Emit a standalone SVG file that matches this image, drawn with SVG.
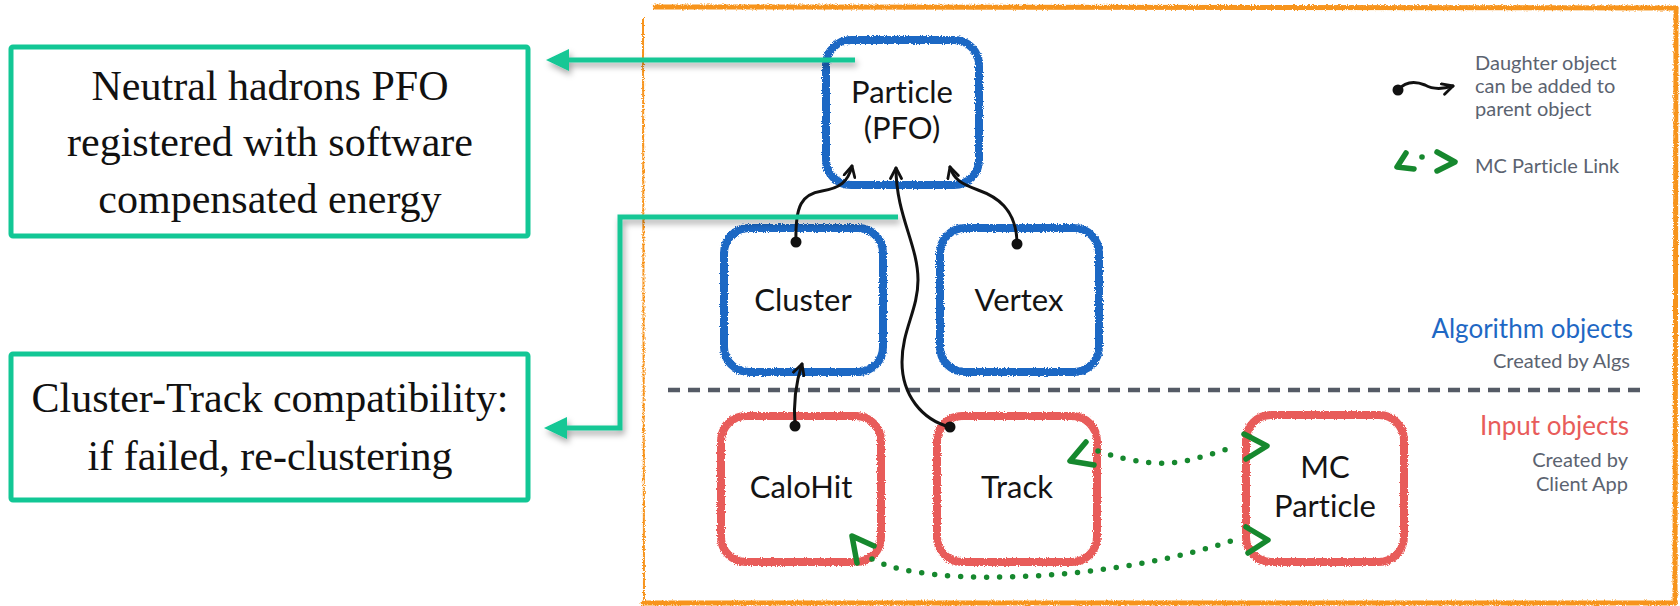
<svg xmlns="http://www.w3.org/2000/svg" width="1680" height="606" viewBox="0 0 1680 606">
  <defs>
    <style>
      text { font-variant-ligatures: none; }
      .note rect { fill: #ffffff; stroke: #12C795; stroke-width: 5; }
      .note text { font-family: "Liberation Serif", "Times New Roman", serif; font-size: 42px; fill: #111111; text-anchor: middle; }
      .node rect.box { fill: #ffffff; stroke-width: 8; }
      .node rect.edge { fill: none; stroke-width: 2.5; opacity: 0.55; }
      .alg rect { stroke: #1F68C4; }
      .inp rect { stroke: #E85C5A; }
      .node text { font-family: Lato, "Open Sans", sans-serif; font-size: 31px; fill: #141414; text-anchor: middle; }
      .legend { font-family: Lato, "Open Sans", sans-serif; font-size: 20px; fill: #5B6370; }
      .big { font-family: Lato, "Open Sans", sans-serif; font-size: 26px; text-anchor: end; }
      .small { font-family: Lato, "Open Sans", sans-serif; font-size: 20px; fill: #5B6370; text-anchor: end; }
      .link { fill: none; stroke: #111111; stroke-width: 3; stroke-linecap: round; }
      .mc { fill: none; stroke: #16882E; stroke-width: 5.5; stroke-linecap: round; stroke-dasharray: 0 13; }
      .mchead { fill: none; stroke: #16882E; stroke-width: 5.5; stroke-linecap: round; stroke-linejoin: round; }
      .callout { fill: none; stroke: #12C795; stroke-width: 5; }
      .frame { fill: none; stroke: #F7941D; stroke-linecap: round; }
    </style>
    <filter id="rough" x="-5%" y="-5%" width="110%" height="110%">
      <feTurbulence type="fractalNoise" baseFrequency="0.9" numOctaves="2" seed="3" result="n"/>
      <feDisplacementMap in="SourceGraphic" in2="n" scale="3.5" xChannelSelector="R" yChannelSelector="G"/>
    </filter>
    <filter id="shadow" x="-5%" y="-50%" width="110%" height="200%">
      <feDropShadow dx="2" dy="4" stdDeviation="3" flood-color="#000000" flood-opacity="0.35"/>
    </filter>
    <marker id="open" viewBox="0 0 14 14" refX="12" refY="7" markerWidth="14" markerHeight="14" markerUnits="userSpaceOnUse" orient="auto">
      <path d="M1.5,1.5 L12,7 L1.5,12.5" fill="none" stroke="#111111" stroke-width="2.8" stroke-linecap="round" stroke-linejoin="round"/>
    </marker>
  </defs>

  <rect x="0" y="0" width="1680" height="606" fill="#ffffff"/>

  <!-- orange frame -->
  <g id="frame" filter="url(#rough)">
    <path class="frame" d="M655,7 L1676,8" stroke-width="5"/>
    <path class="frame" d="M1676,8 L1675,603" stroke-width="5"/>
    <path class="frame" d="M643,603 L1675,603" stroke-width="5"/>
    <path class="frame" d="M643,18 L644,603" stroke-width="2"/>
  </g>

  <!-- separator -->
  <path id="separator" d="M668,390 L1647,390" stroke="#555B66" stroke-width="4.5" stroke-dasharray="12 8" fill="none"/>

  <!-- nodes -->
  <g id="particle" class="node alg">
    <rect class="box" x="826" y="40" width="153" height="145" rx="25" filter="url(#rough)"/>
    <rect class="edge" x="828" y="38" width="152" height="146" rx="26" filter="url(#rough)"/>
    <text x="902" y="103">Particle</text>
    <text x="902" y="139">(PFO)</text>
  </g>
  <g id="cluster" class="node alg">
    <rect class="box" x="724" y="228" width="159" height="144" rx="25" filter="url(#rough)"/>
    <rect class="edge" x="726" y="226" width="158" height="145" rx="26" filter="url(#rough)"/>
    <text x="803" y="311">Cluster</text>
  </g>
  <g id="vertex" class="node alg">
    <rect class="box" x="940" y="228" width="159" height="144" rx="25" filter="url(#rough)"/>
    <rect class="edge" x="942" y="226" width="158" height="145" rx="26" filter="url(#rough)"/>
    <text x="1019" y="311">Vertex</text>
  </g>
  <g id="calohit" class="node inp">
    <rect class="box" x="721" y="416" width="160" height="146" rx="25" filter="url(#rough)"/>
    <rect class="edge" x="723" y="414" width="159" height="147" rx="26" filter="url(#rough)"/>
    <text x="801" y="498">CaloHit</text>
  </g>
  <g id="track" class="node inp">
    <rect class="box" x="937" y="416" width="160" height="146" rx="25" filter="url(#rough)"/>
    <rect class="edge" x="939" y="414" width="159" height="147" rx="26" filter="url(#rough)"/>
    <text x="1017" y="498">Track</text>
  </g>
  <g id="mcparticle" class="node inp">
    <rect class="box" x="1246" y="415" width="158" height="147" rx="25" filter="url(#rough)"/>
    <rect class="edge" x="1248" y="413" width="157" height="148" rx="26" filter="url(#rough)"/>
    <text x="1325" y="478">MC</text>
    <text x="1325" y="517">Particle</text>
  </g>

  <!-- notes -->
  <g id="note-pfo" class="note">
    <rect x="11" y="47" width="517" height="189" rx="2"/>
    <text x="270" y="100">Neutral hadrons PFO</text>
    <text x="270" y="156">registered with software</text>
    <text x="270" y="213">compensated energy</text>
  </g>
  <g id="note-cluster-track" class="note">
    <rect x="11" y="354" width="517" height="146" rx="2"/>
    <text x="270" y="412">Cluster-Track compatibility:</text>
    <text x="270" y="470">if failed, re-clustering</text>
  </g>

  <!-- legend -->
  <g id="legend">
    <path class="link" d="M1398,90 C1405,82 1415,81 1425,85 C1432,89 1440,90 1453,86" marker-end="url(#open)"/>
    <circle cx="1398" cy="90" r="5.5" fill="#111111"/>
    <text class="legend" x="1475" y="70">Daughter object</text>
    <text class="legend" x="1475" y="93">can be added to</text>
    <text class="legend" x="1475" y="116">parent object</text>
    <polyline class="mchead" points="1406,153 1397,167 1414,169"/>
    <circle cx="1422" cy="157" r="2.8" fill="#16882E"/>
    <polyline class="mchead" points="1437,152 1455,162 1437,171"/>
    <text class="legend" x="1475" y="173">MC Particle Link</text>
  </g>

  <!-- region labels -->
  <g id="labels">
    <text class="big" x="1633" y="338" fill="#1F68C4">Algorithm objects</text>
    <text class="small" x="1630" y="368">Created by Algs</text>
    <text class="big" x="1629" y="435" fill="#E85C5A">Input objects</text>
    <text class="small" x="1628" y="467">Created by</text>
    <text class="small" x="1628" y="491">Client App</text>
  </g>

  <!-- connectors -->
  <g id="connectors">
    <path class="link" d="M796,242 C795,205 802,194 822,191 C840,188 848,182 852,166" marker-end="url(#open)"/>
    <circle cx="796" cy="242" r="5.5" fill="#111111"/>
    <path class="link" d="M1017,244 C1017,208 995,196 978,190 C962,184 954,180 950,167" marker-end="url(#open)"/>
    <circle cx="1017" cy="244" r="5.5" fill="#111111"/>
    <path class="link" d="M950,427 C922,420 902,395 902,362 C902,330 918,310 918,280 C918,245 896,215 896,168" marker-end="url(#open)"/>
    <circle cx="950" cy="427" r="5.5" fill="#111111"/>
    <path class="link" d="M795,426 C793,400 796,382 802,364" marker-end="url(#open)"/>
    <circle cx="795" cy="426" r="5.5" fill="#111111"/>

    <path class="mc" d="M1098,451 C1130,462 1160,466 1185,461 C1205,457 1225,449 1236,447"/>
    <polyline class="mchead" points="1086,442 1070,461 1094,465"/>
    <polyline class="mchead" points="1244,434 1267,446 1246,459"/>

    <path class="mc" d="M872,559 C930,590 1120,580 1237,539"/>
    <polyline class="mchead" points="857,563 852,536 874,546"/>
    <polyline class="mchead" points="1246,527 1268,540 1248,553"/>

    <g filter="url(#shadow)">
      <path class="callout" d="M855,60 L566,60"/>
      <polygon points="546,60 569,49 569,71" fill="#12C795"/>
      <path class="callout" d="M898,217 L620,217 L620,428 L564,428"/>
      <polygon points="544,428 567,417 567,439" fill="#12C795"/>
    </g>
  </g>
</svg>
